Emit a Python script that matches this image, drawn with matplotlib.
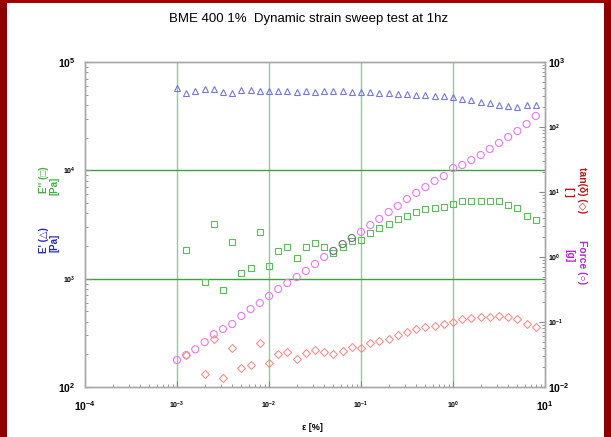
import numpy as np
import matplotlib
matplotlib.use('Agg')
import matplotlib.pyplot as plt
from matplotlib.patches import Rectangle

plt.rcParams['font.family'] = ['Liberation Sans', 'DejaVu Sans']
plt.rcParams['mathtext.fontset'] = 'custom'
plt.rcParams['mathtext.rm'] = 'Liberation Sans'
plt.rcParams['mathtext.bf'] = 'Liberation Sans:bold'
plt.rcParams['mathtext.it'] = 'Liberation Sans:italic'

# strain [%], 10 points per decade
strain = [0.00100, 0.00126, 0.00158, 0.00200, 0.00251, 0.00316, 0.00398, 0.00501, 0.00631, 0.00794,
          0.0100, 0.0126, 0.0158, 0.0200, 0.0251, 0.0316, 0.0398, 0.0501, 0.0631, 0.0794,
          0.100, 0.126, 0.158, 0.200, 0.251, 0.316, 0.398, 0.501, 0.631, 0.794,
          1.00, 1.26, 1.58, 2.00, 2.51, 3.16, 3.98, 5.01, 6.31, 7.94]

# E' [Pa]
e_storage = [57700, 51800, 54100, 56400, 55800, 53000, 51300, 55300, 55300, 54100,
             54100, 53500, 53800, 53300, 53700, 53400, 53600, 53500, 53700, 53400,
             53000, 52400, 51800, 51300, 50800, 50200, 49700, 49200, 48700, 48100,
             47600, 45600, 44200, 42800, 41500, 40200, 38900, 38500, 39800, 39800]

# E'' [Pa] (nan = not measured)
e_loss = [np.nan, 1820, np.nan, 940, 3200, 780, 2200, 1140, 1250, 2720,
          1300, 1810, 1970, 1560, 1940, 2150, 1970, 1740, 1950, 2230,
          2280, 2660, 2960, 3180, 3540, 3790, 4160, 4380, 4470, 4630,
          4900, 5220, 5200, 5230, 5210, 5220, 4800, 4470, 3790, 3480]

# tan(delta) [ ]
tan_delta = [np.nan, 0.0310, np.nan, 0.0161, 0.0538, 0.0140, 0.0405, 0.0196, 0.0218, 0.0467,
             0.0230, 0.0322, 0.0345, 0.0274, 0.0330, 0.0371, 0.0345, 0.0322, 0.0358, 0.0412,
             0.0398, 0.0475, 0.0510, 0.0547, 0.0631, 0.0702, 0.0780, 0.0837, 0.0867, 0.0931,
             0.100, 0.111, 0.115, 0.119, 0.119, 0.124, 0.119, 0.111, 0.0931, 0.0837]

# Force [g]
force = [0.026, 0.031, 0.038, 0.049, 0.065, 0.078, 0.093, 0.124, 0.158, 0.196,
         0.251, 0.322, 0.398, 0.492, 0.61, 0.78, 1.0, 1.24, 1.58, 1.96,
         2.43, 3.10, 3.85, 4.92, 6.1, 7.8, 9.7, 11.9, 14.8, 17.6,
         23.4, 26.0, 31.0, 37.1, 45.9, 56.8, 70.2, 86.7, 111, 148]
force_dark = [17, 18, 19]  # points drawn grey in the original

x_ticks = [1e-4, 1e-3, 1e-2, 1e-1, 1e0, 1e1]
x_exps = ['-4', '-3', '-2', '-1', '0', '1']
left_ticks = [1e2, 1e3, 1e4, 1e5]
left_exps = ['2', '3', '4', '5']
right_ticks = [1e-2, 1e-1, 1e0, 1e1, 1e2, 1e3]
right_exps = ['-2', '-1', '0', '1', '2', '3']
grid_x = [1e-3, 1e-2, 1e-1, 1e0]
grid_y = [1e3, 1e4]

fig = plt.figure(figsize=(6.11, 4.37), dpi=100)
ax = fig.add_axes([85 / 611, 1 - 387 / 437, 460 / 611, 325 / 437])
ax2 = ax.twinx()

for gx in grid_x:
    ax.axvline(gx, color='#92cc92', lw=1.0, zorder=0)
for gy in grid_y:
    ax.axhline(gy, color='#3f9f3f', lw=1.0, zorder=0)

ax.plot(strain, e_storage, ls='none', marker='^', ms=5, mfc='none', mec='#7676dc', mew=0.8)
ax.plot(strain, e_loss, ls='none', marker='s', ms=4.3, mfc='none', mec='#5cbc5c', mew=0.8)

ax2.plot(strain, tan_delta, ls='none', marker='D', ms=4.3, mfc='none', mec='#f29090', mew=0.8)
fc = ['#707070' if i in force_dark else '#e47af0' for i in range(len(force))]
ax2.scatter(strain, force, s=26, marker='o', facecolors='none', edgecolors=fc, linewidths=0.8)

ax.set_xscale('log')
ax.set_yscale('log')
ax2.set_yscale('log')
ax.set_xlim(1e-4, 10)
ax.set_ylim(1e2, 1e5)
ax2.set_ylim(1e-2, 1e3)


def pow_labels(exps):
    return [r'$\mathbf{10^{%s}}$' % e for e in exps]


def size_labels(labels):
    # end labels of each axis are printed larger
    for k, t in enumerate(labels):
        t.set_fontsize(7.5 if k in (0, len(labels) - 1) else 5)


ax.set_xticks(x_ticks)
size_labels(ax.set_xticklabels(pow_labels(x_exps)))
ax.set_yticks(left_ticks)
size_labels(ax.set_yticklabels(pow_labels(left_exps)))
ax2.set_yticks(right_ticks)
size_labels(ax2.set_yticklabels(pow_labels(right_exps)))

ax.tick_params(axis='x', which='both', direction='in', colors='#888888', labelcolor='black', pad=9)
ax.tick_params(axis='y', which='both', direction='in', colors='#888888', labelcolor='black', pad=7)
ax2.tick_params(axis='y', which='both', direction='in', colors='#888888', labelcolor='black', pad=2)
for a in (ax, ax2):
    a.tick_params(which='major', length=4)
    a.tick_params(which='minor', length=2.5)
    for s in a.spines.values():
        s.set_color('#a8a8a8')
        s.set_linewidth(1.0)

fig.text(0.505, 1 - 19 / 437, 'BME 400 1%  Dynamic strain sweep test at 1hz',
         ha='center', va='center', fontsize=9.5)
fig.text(312 / 611, 1 - 428 / 437, 'ε [%]', ha='center', va='center',
         fontsize=6.5, fontweight='bold')

# left axis labels
fig.text(44 / 611, 1 - 180 / 437, "E'' (□)", rotation=90, ha='center', va='center',
         fontsize=7, fontweight='bold', color='#44b044')
fig.text(54 / 611, 1 - 186 / 437, '[Pa]', rotation=90, ha='center', va='center',
         fontsize=7, fontweight='bold', color='#44b044')
fig.text(44 / 611, 1 - 240 / 437, "E' (△)", rotation=90, ha='center', va='center',
         fontsize=7, fontweight='bold', color='#2a2ab8')
fig.text(54 / 611, 1 - 243 / 437, '[Pa]', rotation=90, ha='center', va='center',
         fontsize=7, fontweight='bold', color='#2a2ab8')

# right axis labels
fig.text(582 / 611, 1 - 190 / 437, 'tan(δ) (◇)', rotation=270, ha='center', va='center',
         fontsize=7.5, fontweight='bold', color='#b81818')
fig.text(569 / 611, 1 - 192 / 437, '[ ]', rotation=270, ha='center', va='center',
         fontsize=7.5, fontweight='bold', color='#b81818')
fig.text(582 / 611, 1 - 262 / 437, 'Force (○)', rotation=270, ha='center', va='center',
         fontsize=7.5, fontweight='bold', color='#b02cc8')
fig.text(569 / 611, 1 - 256 / 437, '[g]', rotation=270, ha='center', va='center',
         fontsize=7.5, fontweight='bold', color='#b02cc8')

# dark red frame
fig.patches.append(Rectangle((0, 0), 7 / 611, 1, transform=fig.transFigure,
                             facecolor='#8e0000', edgecolor='none', zorder=-1))
fig.patches.append(Rectangle((604 / 611, 0), 7 / 611, 1, transform=fig.transFigure,
                             facecolor='#8e0000', edgecolor='none', zorder=-1))
fig.patches.append(Rectangle((0, 1 - 3 / 437), 1, 3 / 437, transform=fig.transFigure,
                             facecolor='#a00000', edgecolor='none', zorder=-1))

fig.savefig('out.png', dpi=100)
